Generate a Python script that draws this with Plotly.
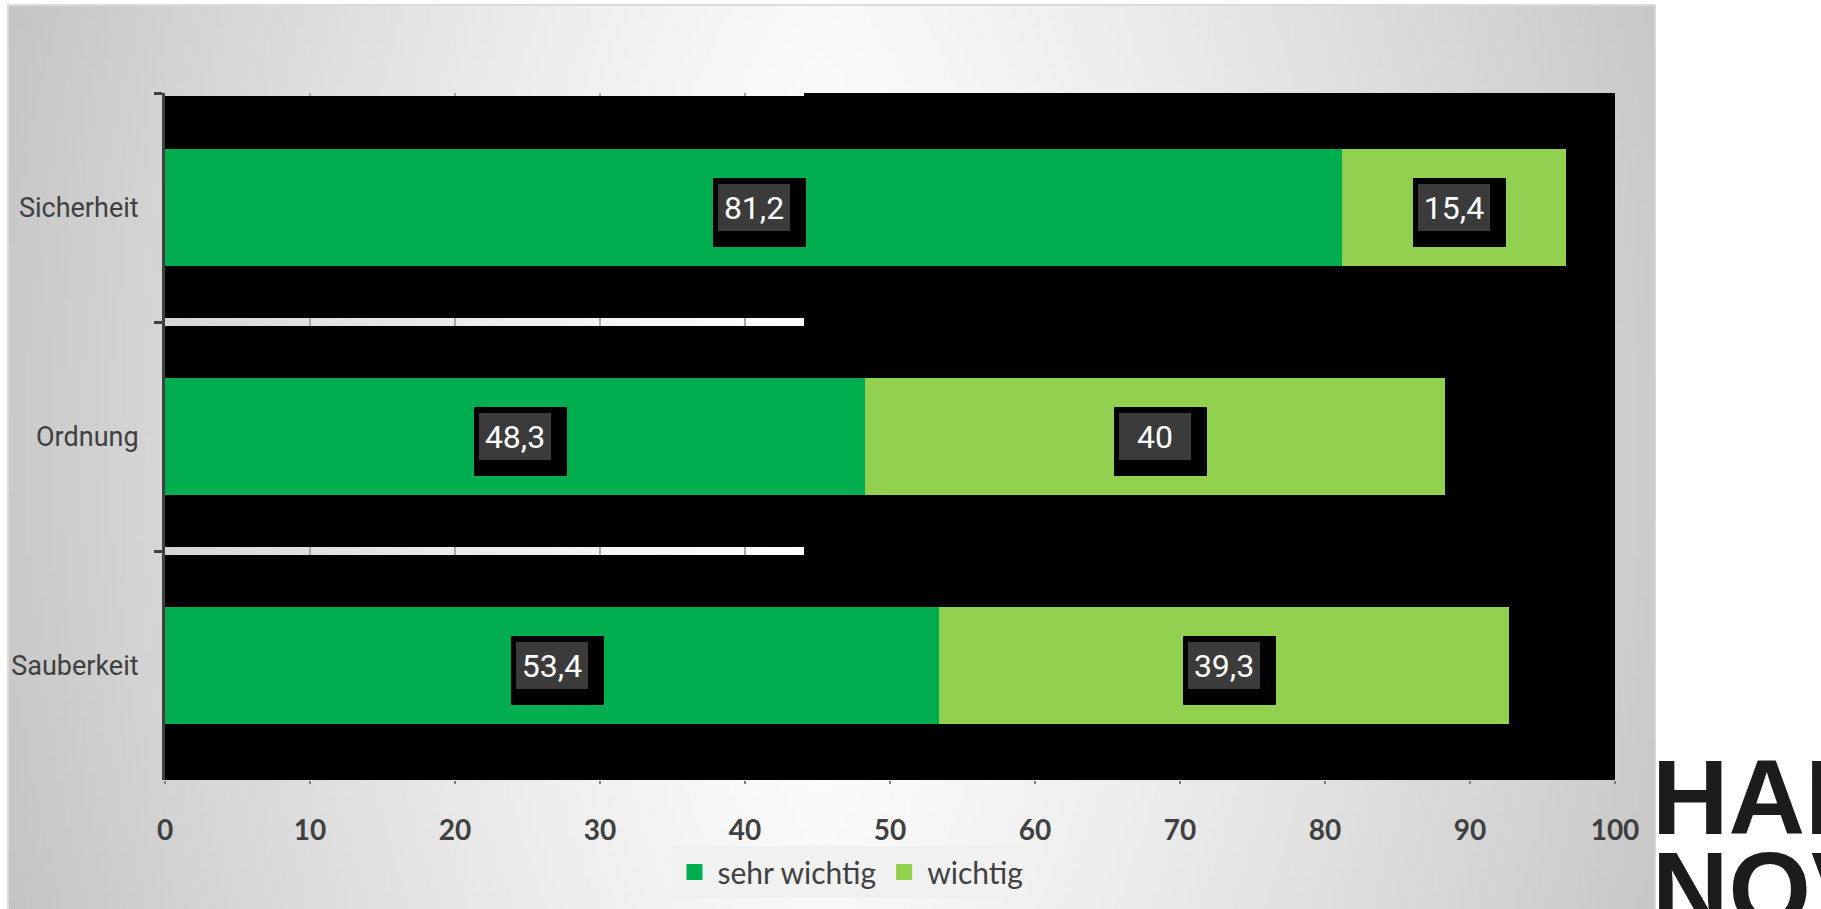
import base64
import struct
import zlib

import numpy as np
import plotly.graph_objects as go

# ---------------- data ----------------
categories = ["Sicherheit", "Ordnung", "Sauberkeit"]
sehr_wichtig = [81.2, 48.3, 53.4]
wichtig = [15.4, 40.0, 39.3]
series_names = ["sehr wichtig", "wichtig"]
x_ticks = [0, 10, 20, 30, 40, 50, 60, 70, 80, 90, 100]

# ---------------- geometry / style ----------------
W, H = 1821, 909
ML, MR, MT, MB = 165, 206, 93, 129
PW, PH = W - ML - MR, H - MT - MB
DARK_GREEN = "#00AE50"
LIGHT_GREEN = "#92D050"
TXT = "#404040"
LABEL_FONT = "Roboto, Liberation Sans Narrow, sans-serif"


def px_x(px):
    return (px - ML) / PW


def px_y(py):
    return (H - MB - py) / PH


# ---------------- background gradient image ----------------
def make_png(arr):
    h, w, _ = arr.shape
    raw = b"".join(b"\x00" + arr[i].tobytes() for i in range(h))

    def chunk(t, d):
        c = struct.pack(">I", len(d)) + t + d
        return c + struct.pack(">I", zlib.crc32(t + d) & 0xFFFFFFFF)

    return (b"\x89PNG\r\n\x1a\n"
            + chunk(b"IHDR", struct.pack(">IIBBBBB", w, h, 8, 2, 0, 0, 0))
            + chunk(b"IDAT", zlib.compress(raw, 9))
            + chunk(b"IEND", b""))


GX0, GY0, GX1, GY1 = 9, 6, 1655, 909
gw, gh = 330, 180
xs = GX0 + (np.arange(gw) + 0.5) * (GX1 - GX0) / gw
ys = GY0 + (np.arange(gh) + 0.5) * (GY1 - GY0) / gh
XX, YY = np.meshgrid(xs, ys)
dx = np.where(XX < 820, (820 - XX) / 880, (XX - 820) / 950)
dx = np.clip(dx, 0, 1)
val = 254 - 58 * dx ** 1.3 - 5 * ((YY - 450) / 450) ** 2
val = np.clip(val, 0, 255).astype(np.uint8)
img = np.stack([val, val, val], axis=-1)
uri = "data:image/png;base64," + base64.b64encode(make_png(img)).decode()

# ---------------- figure ----------------
fig = go.Figure()

fig.add_trace(go.Bar(
    y=categories, x=sehr_wichtig, orientation="h", name=series_names[0],
    marker=dict(color=DARK_GREEN, line=dict(width=0)), showlegend=False,
    hoverinfo="skip"))
fig.add_trace(go.Bar(
    y=categories, x=wichtig, orientation="h", name=series_names[1],
    marker=dict(color=LIGHT_GREEN, line=dict(width=0)), showlegend=False,
    hoverinfo="skip"))

# legend entries
for name, col in zip(series_names, [DARK_GREEN, LIGHT_GREEN]):
    fig.add_trace(go.Scatter(
        x=[None], y=[None], mode="markers", name=name,
        marker=dict(symbol="square", size=18, color=col, line=dict(width=0)),
        showlegend=True))

# black panels (leaving light strips at the category boundaries on the left part)
STEP_X = 44.07
s = 0.0175
shapes = []
panel_rects = [
    (STEP_X, 100, -0.5 - 0.01, 2.5),
    (0, STEP_X + 0.3, -0.5 + 0.013, 0.5 - s),
    (0, STEP_X + 0.3, 0.5 + s, 1.5 - s),
    (0, STEP_X + 0.3, 1.5 + s, 2.5),
]
for x0, x1, y0, y1 in panel_rects:
    shapes.append(dict(type="rect", xref="x", yref="y", x0=x0, x1=x1, y0=y0, y1=y1,
                       fillcolor="black", line=dict(width=0), layer="between"))

# chart area border
shapes.append(dict(type="rect", xref="paper", yref="paper",
                   x0=px_x(GX0 - 1), x1=px_x(GX1), y0=px_y(GY1 + 5), y1=px_y(GY0 - 1),
                   line=dict(color="#d0d0d0", width=1.5), fillcolor="rgba(0,0,0,0)",
                   layer="below"))

# value labels
annotations = []


def fmt(v):
    return f"{v:g}".replace(".", ",")


for cat, a, b in zip(categories, sehr_wichtig, wichtig):
    for center, v in ((a / 2, a), (a + b / 2, b)):
        annotations.append(dict(
            x=center, y=cat, xref="x", yref="y", text=fmt(v), showarrow=False,
            font=dict(family=LABEL_FONT, size=32, color="black"),
            bgcolor="black", width=93, height=69, borderpad=0, borderwidth=0,
            xshift=5.5, yshift=-5, xanchor="center", yanchor="middle"))
        annotations.append(dict(
            x=center, y=cat, xref="x", yref="y", text=fmt(v), showarrow=False,
            font=dict(family=LABEL_FONT, size=32, color="white"),
            bgcolor="#3b3b3b", width=72, height=47, borderpad=0, borderwidth=0,
            xanchor="center", yanchor="middle"))

# logo text at right edge
LOGO_FONT = dict(family="Liberation Sans, Roboto, sans-serif",
                 size=106, color="#1c1c1c", weight=900)
annotations.append(dict(x=px_x(1650), y=px_y(797), xref="paper", yref="paper",
                        text="HAN", showarrow=False, xanchor="left", yanchor="middle",
                        font=LOGO_FONT))
annotations.append(dict(x=px_x(1650), y=px_y(889), xref="paper", yref="paper",
                        text="NOV", showarrow=False, xanchor="left", yanchor="middle",
                        font=LOGO_FONT))

fig.update_layout(
    width=W, height=H,
    margin=dict(l=ML, r=MR, t=MT, b=MB, pad=0, autoexpand=False),
    paper_bgcolor="white",
    plot_bgcolor="rgba(0,0,0,0)",
    barmode="stack",
    bargap=0.49,
    shapes=shapes,
    annotations=annotations,
    images=[dict(source=uri, xref="paper", yref="paper",
                 x=px_x(GX0), y=px_y(GY0), sizex=(GX1 - GX0) / PW, sizey=(GY1 - GY0) / PH,
                 xanchor="left", yanchor="top", sizing="stretch", layer="below")],
    legend=dict(orientation="h", x=px_x(850), xanchor="center",
                y=px_y(872), yanchor="middle",
                bgcolor="#f1f1f1", font=dict(family="Lato, Carlito, sans-serif", size=30, color=TXT),
                itemsizing="trace", itemwidth=36, traceorder="normal"),
    xaxis=dict(range=[0, 100], tickvals=x_ticks, ticktext=[str(t) for t in x_ticks],
               showgrid=True, gridcolor="#a8a8a8", gridwidth=1.5, zeroline=False,
               showline=False, ticks="outside", ticklen=3, tickwidth=1.5, tickcolor="#7f7f7f",
               tickfont=dict(family="Lato, Carlito, sans-serif", size=28, color=TXT, weight="bold"),
               ticklabelstandoff=22, automargin=False),
    yaxis=dict(type="category", categoryorder="array", categoryarray=categories,
               range=[2.5, -0.5], showgrid=False, zeroline=False,
               showline=True, linecolor=TXT, linewidth=3,
               ticks="outside", ticklen=8, tickwidth=3, tickcolor=TXT,
               tickson="boundaries",
               tickfont=dict(family=LABEL_FONT, size=27, color=TXT),
               ticklabelstandoff=18, automargin=False),
    showlegend=True,
)

fig.write_html("out.html",
               config={"displayModeBar": False},
               post_script="document.body.style.margin='0';document.body.style.overflow='hidden';")
